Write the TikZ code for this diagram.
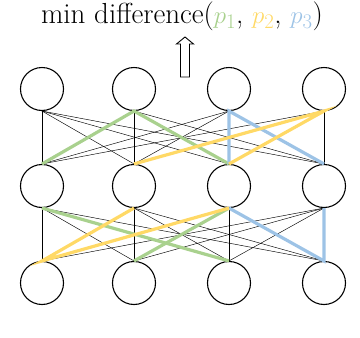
\documentclass[tikz,border=0pt]{standalone}
\usepackage{fontspec}
\usepackage{xcolor}
\usetikzlibrary{positioning}
\definecolor{pathgreen}{HTML}{A9D18E}
\definecolor{pathyellow}{HTML}{FFD966}
\definecolor{pathblue}{HTML}{9DC3E6}
\tikzset{
  neuron/.style={circle, draw, line width=1.1pt, minimum size=43pt, inner sep=0pt},
  weight/.style={line width=0.45pt},
  pathedge/.style={line width=3.2pt},
  hollowarrow/.style={draw, line width=0.9pt, fill=white, line join=miter}
}
\begin{document}
\begin{tikzpicture}[x=1pt,y=-1pt]
\useasboundingbox (0,0) rectangle (360,338);
\node[anchor=base, inner sep=0pt] (title) at (182,23.5) {\fontsize{29}{33}\selectfont min difference($\color{pathgreen}p_1$, $\color{pathyellow}p_2$, $\color{pathblue}p_3$)};
\draw[hollowarrow] (180.5,77) -- (180.5,44) -- (176.5,44) -- (185,37) -- (193.5,44) -- (189.5,44) -- (189.5,77) -- cycle;
% neurons
\node[neuron] (t1) at (42,89) {};
\node[neuron] (t2) at (134,89) {};
\node[neuron] (t3) at (229,89) {};
\node[neuron] (t4) at (324,89) {};
\node[neuron] (m1) at (42,186) {};
\node[neuron] (m2) at (134,186) {};
\node[neuron] (m3) at (229,186) {};
\node[neuron] (m4) at (324,186) {};
\node[neuron] (b1) at (42,283) {};
\node[neuron] (b2) at (134,283) {};
\node[neuron] (b3) at (229,283) {};
\node[neuron] (b4) at (324,283) {};
% full connections
\foreach \i in {1,...,4}{
  \foreach \j in {1,...,4}{
    \draw[weight] (t\i.south) -- (m\j.north);
    \draw[weight] (m\i.south) -- (b\j.north);
  }
}
% paths
\draw[pathedge, pathgreen] (m1.north) -- (t2.south) -- (m3.north);
\draw[pathedge, pathgreen] (m1.south) -- (b3.north);
\draw[pathedge, pathgreen] (m3.south) -- (b2.north);
\draw[pathedge, pathblue] (m3.north) -- (t3.south) -- (m4.north);
\draw[pathedge, pathblue] (m3.south) -- (b4.north) -- (m4.south);
\draw[pathedge, pathyellow] (m2.north) -- (t4.south) -- (m3.north);
\draw[pathedge, pathyellow] (m2.south) -- (b1.north) -- (m3.south);
\end{tikzpicture}
\end{document}
